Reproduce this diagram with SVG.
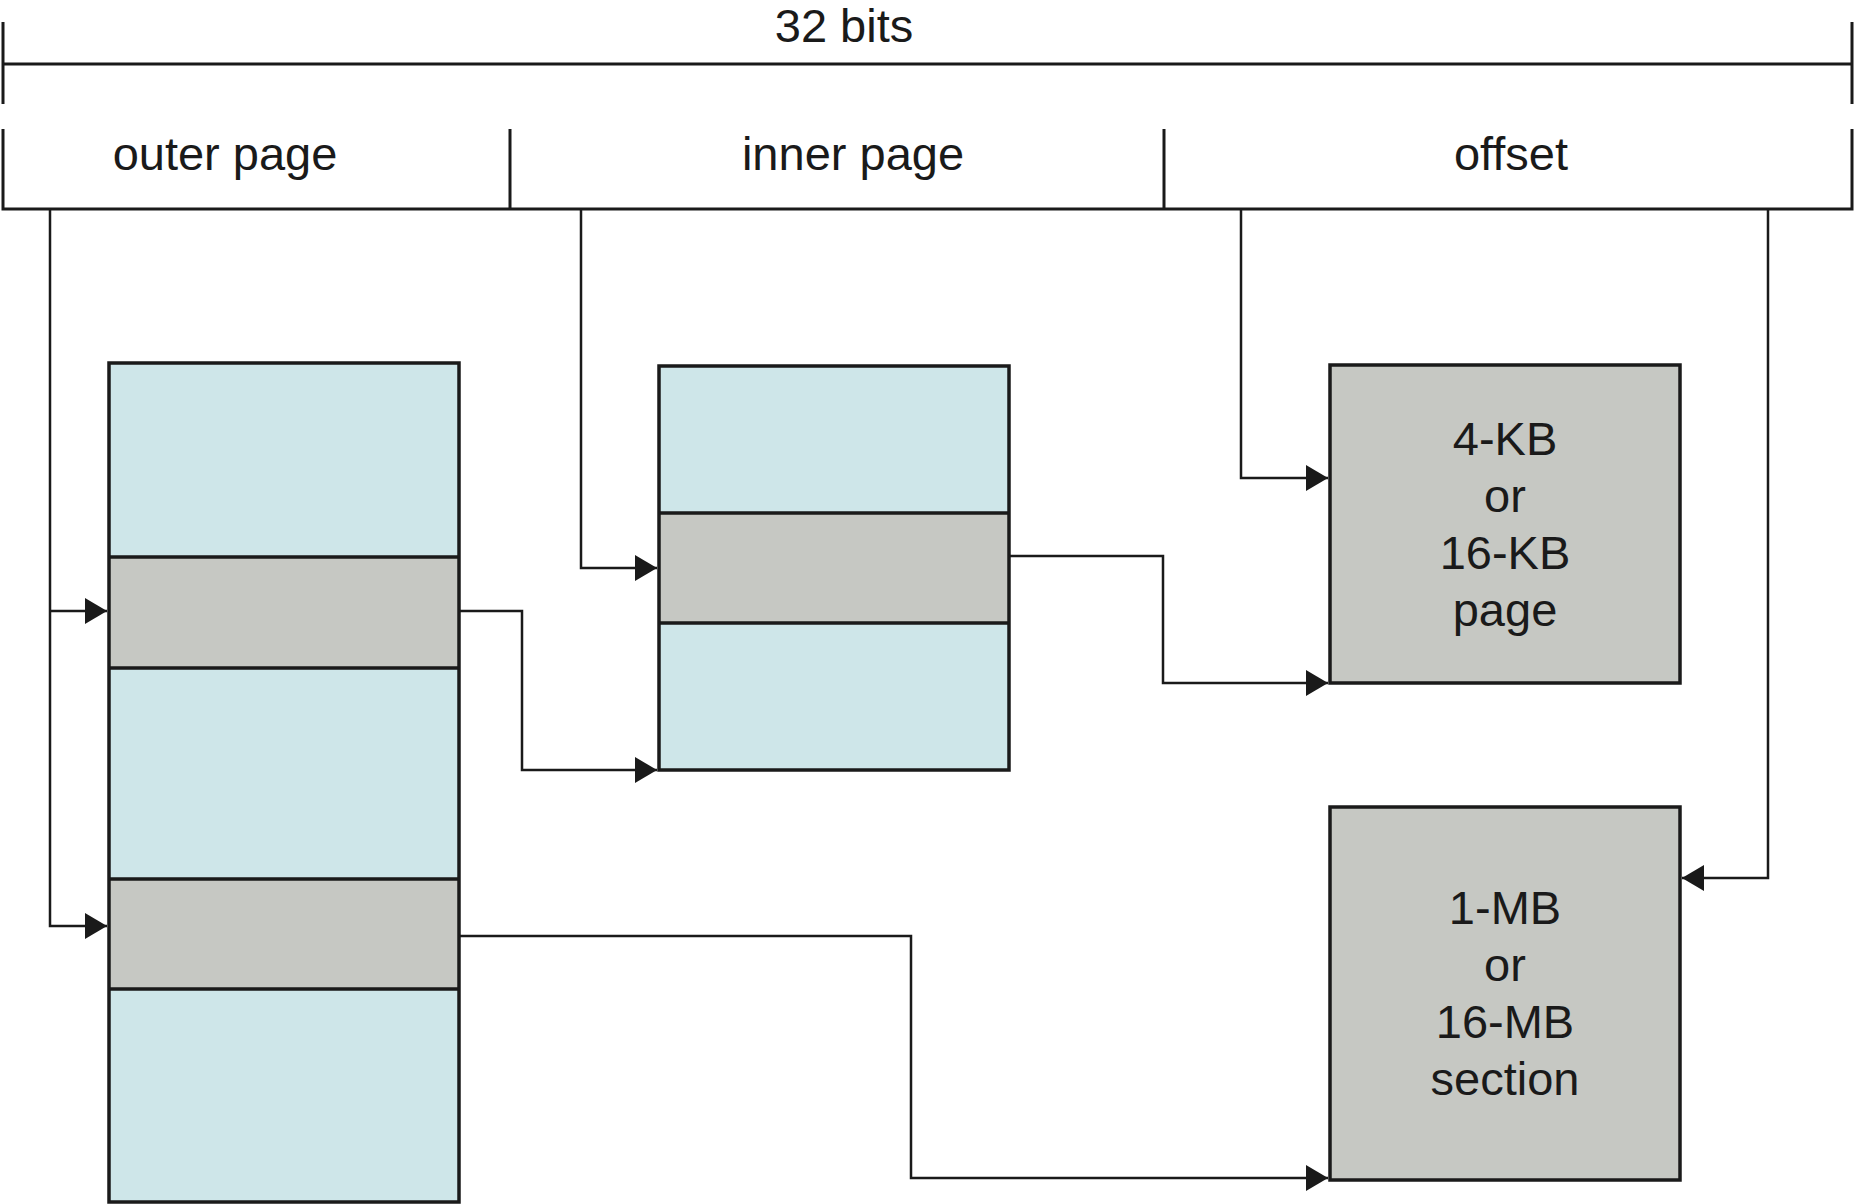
<svg xmlns="http://www.w3.org/2000/svg" width="1856" height="1204" viewBox="0 0 1856 1204">
<style>
.t{font-family:"Liberation Sans",Arial,sans-serif;font-size:47px;fill:#1a1a1a;text-anchor:middle}
.rule{stroke:#1a1a1a;stroke-width:3;fill:none}
.box{stroke:#1a1a1a;stroke-width:3.5}
.blue{fill:#cee6e9}
.gray{fill:#c6c8c3}
.div{stroke:#1a1a1a;stroke-width:3.5}
.c{stroke:#1a1a1a;stroke-width:2.5;fill:none}
</style>
<defs>
<marker id="ah" markerUnits="userSpaceOnUse" markerWidth="24" markerHeight="28" refX="22" refY="13" orient="auto">
<path d="M0,0 L22,13 L0,26 z" fill="#1a1a1a"/>
</marker>
</defs>
<rect width="1856" height="1204" fill="#ffffff"/>
<g id="ruler">
<path class="rule" d="M3,64 H1852 M3,22 V104 M1852,22 V104"/>
<text class="t" x="844" y="42">32 bits</text>
</g>
<g id="address">
<path class="rule" d="M3,129 V209 H1852 V129 M510,129 V209 M1164,129 V209"/>
<text class="t" x="225" y="170">outer page</text>
<text class="t" x="853" y="170">inner page</text>
<text class="t" x="1511" y="170">offset</text>
</g>
<g id="outer-table">
<rect class="blue" x="109" y="363" width="350" height="194"/>
<rect class="gray" x="109" y="557" width="350" height="111"/>
<rect class="blue" x="109" y="668" width="350" height="211"/>
<rect class="gray" x="109" y="879" width="350" height="110"/>
<rect class="blue" x="109" y="989" width="350" height="213"/>
<path class="div" d="M109,557 H459 M109,668 H459 M109,879 H459 M109,989 H459"/>
<rect class="box" x="109" y="363" width="350" height="839" fill="none"/>
</g>
<g id="inner-table">
<rect class="blue" x="659" y="366" width="350" height="147"/>
<rect class="gray" x="659" y="513" width="350" height="110"/>
<rect class="blue" x="659" y="623" width="350" height="147"/>
<path class="div" d="M659,513 H1009 M659,623 H1009"/>
<rect class="box" x="659" y="366" width="350" height="404" fill="none"/>
</g>
<g id="page-4kb">
<rect class="box gray" x="1330" y="365" width="350" height="318"/>
<text class="t" x="1505" y="455">4-KB</text>
<text class="t" x="1505" y="512">or</text>
<text class="t" x="1505" y="569">16-KB</text>
<text class="t" x="1505" y="626">page</text>
</g>
<g id="section-1mb">
<rect class="box gray" x="1330" y="807" width="350" height="373"/>
<text class="t" x="1505" y="924">1-MB</text>
<text class="t" x="1505" y="981">or</text>
<text class="t" x="1505" y="1038">16-MB</text>
<text class="t" x="1505" y="1095">section</text>
</g>
<g id="connectors">
<path class="c" d="M50,209 V926 H107" marker-end="url(#ah)"/>
<path class="c" d="M50,611 H107" marker-end="url(#ah)"/>
<path class="c" d="M581,209 V568 H657" marker-end="url(#ah)"/>
<path class="c" d="M1241,209 V478 H1328" marker-end="url(#ah)"/>
<path class="c" d="M1768,209 V878 H1682" marker-end="url(#ah)"/>
<path class="c" d="M459,611 H522 V770 H657" marker-end="url(#ah)"/>
<path class="c" d="M1009,556 H1163 V683 H1328" marker-end="url(#ah)"/>
<path class="c" d="M459,936 H911 V1178 H1328" marker-end="url(#ah)"/>
</g>
</svg>
